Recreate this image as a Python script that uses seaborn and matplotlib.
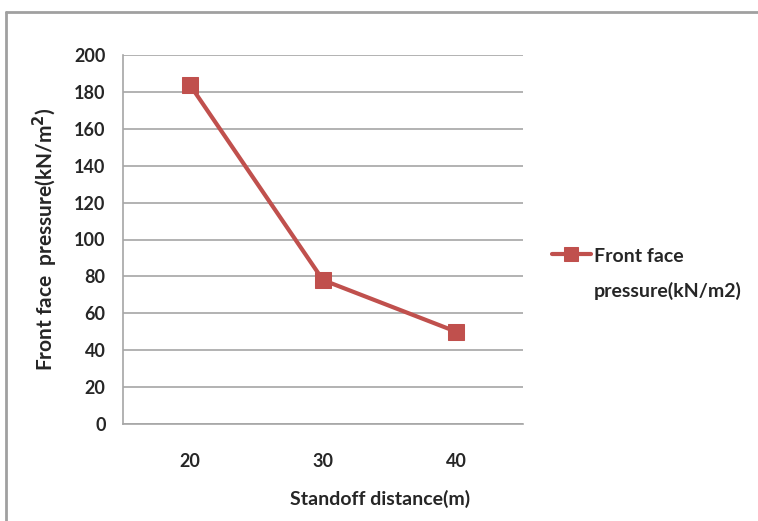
import matplotlib
matplotlib.use("Agg")
import matplotlib.pyplot as plt
import seaborn as sns
import pandas as pd
from matplotlib.lines import Line2D

distances = ["20", "30", "40"]
pressure = [184, 78, 50]
series_name = "Front face\npressure(kN/m2)"
yticks = [0, 20, 40, 60, 80, 100, 120, 140, 160, 180, 200]

sns.set_style("white")
plt.rcParams['font.family'] = ['Lato', 'DejaVu Sans']

df = pd.DataFrame({"distance": distances, "pressure": pressure})

fig = plt.figure(figsize=(7.58, 5.21), dpi=100)
W, H = 758, 521
ax = fig.add_axes([123 / W, 97 / H, 400 / W, 369 / H])

red = "#C0504D"
sns.lineplot(data=df, x="distance", y="pressure", ax=ax, color=red, lw=3,
             marker="s", markersize=11.5, markeredgecolor=red, sort=False,
             label=series_name, zorder=3)

ax.set_xlim(-0.5, 2.5)
ax.set_ylim(0, 200)
ax.set_yticks(yticks)
ax.set_yticklabels([str(t) for t in yticks], fontweight="bold", fontsize=13)
ax.set_xticks(range(len(distances)))
ax.set_xticklabels(distances, fontweight="bold", fontsize=13)
ax.yaxis.grid(True, color="#A6A6A6", lw=1.2)
ax.set_axisbelow(True)
for s in ["top", "right"]:
    ax.spines[s].set_visible(False)
for s in ["left", "bottom"]:
    ax.spines[s].set_color("#A6A6A6")
    ax.spines[s].set_linewidth(1.2)
ax.tick_params(axis="y", length=5.5, width=1.2, color="#A6A6A6", pad=7)
ax.tick_params(axis="x", length=0, pad=21)

ax.set_xlabel("Standoff distance(m)", fontweight="bold", fontsize=14)
ax.xaxis.set_label_coords((380 - 123) / 400, (424 - 490) / 369)
ax.set_ylabel("Front face  pressure(kN/m$^\\mathbf{2}$)", fontweight="bold",
              fontsize=15, labelpad=10)

leg = ax.legend(loc="upper left", bbox_to_anchor=(1.072, 0.478),
                frameon=False, prop={"weight": "bold", "size": 14},
                handlelength=2.0, handletextpad=0.15, borderpad=0,
                borderaxespad=0)
for t in leg.get_texts():
    t.set_linespacing(2.15)
for h in leg.legend_handles:
    try:
        h.set_markersize(10)
    except Exception:
        pass
# align handle with the first line of the label
try:
    for col in leg._legend_handle_box.get_children():
        for item in col.get_children():
            item.align = "top"
except Exception:
    pass

# outer frame
fig.add_artist(Line2D([6 / W, 6 / W], [0, 1 - 12 / H], transform=fig.transFigure,
                      color="#A0A0A0", lw=2))
fig.add_artist(Line2D([6 / W, 1], [1 - 12 / H, 1 - 12 / H], transform=fig.transFigure,
                      color="#A0A0A0", lw=2))

fig.savefig("out.png", dpi=100)
